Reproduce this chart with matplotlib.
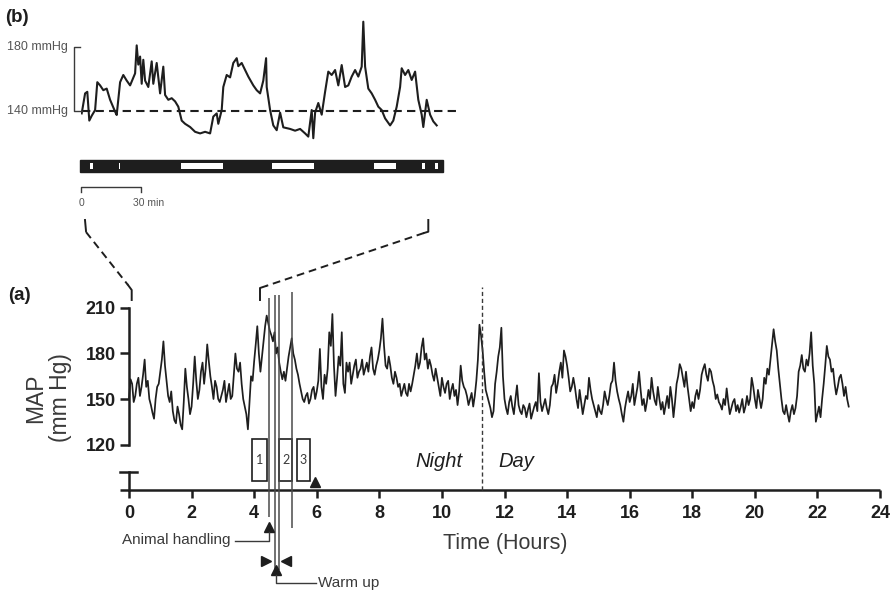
import numpy as np
import matplotlib
matplotlib.use("Agg")
import matplotlib.pyplot as plt
from matplotlib.patches import Rectangle

plt.rcParams['font.family'] = ['Liberation Sans', 'DejaVu Sans']

# ---- panel (a): 24 h MAP trace ----
# readings on the 0.1 h grid (0.0, 0.1, ... 23.0)
step_h = 0.1
map_mmhg = [
    150, 160, 152, 164, 158, 176, 162, 146, 137, 158,
    168, 188, 162, 148, 142, 134, 140, 130, 170, 150,
    145, 178, 150, 168, 160, 186, 165, 150, 158, 148,
    156, 148, 160, 152, 180, 168, 160, 145, 130, 165,
    175, 198, 168, 188, 205, 195, 188, 180, 174, 163,
    162, 178, 190, 176, 166, 155, 148, 154, 150, 158,
    155, 183, 150, 160, 194, 206, 152, 178, 194, 154,
    168, 160, 172, 164, 170, 166, 174, 178, 170, 172,
    182, 203, 172, 178, 164, 168, 158, 152, 160, 152,
    155, 166, 180, 174, 190, 180, 176, 166, 170, 158,
    164, 154, 162, 156, 152, 146, 172, 158, 152, 150,
    145, 162, 199, 182, 156, 148, 138, 160, 178, 197,
    150, 140, 152, 140, 159, 142, 146, 138, 147, 141,
    148, 167, 142, 150, 140, 158, 166, 160, 174, 182,
    172, 155, 164, 150, 156, 140, 152, 164, 150, 142,
    146, 140, 155, 146, 160, 174, 155, 146, 135, 150,
    148, 160, 152, 168, 146, 142, 156, 164, 149, 158,
    143, 140, 152, 158, 138, 160, 173, 164, 168, 150,
    148, 152, 150, 166, 173, 162, 168, 158, 153, 146,
    150, 157, 140, 148, 142, 141, 150, 145, 146, 164,
    150, 156, 144, 164, 170, 176, 196, 182, 160, 142,
    146, 135, 146, 144, 168, 179, 168, 172, 194, 160,
    140, 138, 160, 185, 176, 170, 153, 164, 160, 158,
    145,
]
# readings half way between (0.05, 0.15, ... 22.95)
map_mid = [
    163, 148, 160, 152, 166, 158, 150, 141, 150, 160,
    176, 172, 152, 155, 136, 145, 133, 148, 158, 140,
    160, 162, 156, 174, 170, 175, 158, 162, 150, 152,
    162, 154, 150, 166, 170, 174, 150, 140, 148, 162,
    186, 180, 178, 198, 200, 192, 194, 184, 168, 168,
    170, 184, 180, 170, 160, 150, 152, 147, 156, 150,
    162, 158, 166, 170, 185, 172, 164, 172, 160, 174,
    174, 166, 176, 168, 176, 170, 168, 184, 166, 176,
    190, 185, 170, 172, 160, 164, 160, 156, 154, 160,
    160, 172, 170, 184, 176, 170, 172, 162, 164, 152,
    158, 160, 150, 160, 156, 155, 162, 156, 146, 154,
    152, 176, 192, 168, 152, 144, 142, 168, 184, 165,
    144, 148, 145, 150, 146, 140, 144, 143, 137, 145,
    142, 148, 146, 144, 146, 160, 154, 168, 164, 178,
    164, 158, 158, 144, 148, 146, 150, 156, 146, 138,
    142, 146, 150, 152, 162, 162, 150, 140, 144, 155,
    152, 146, 158, 156, 150, 148, 150, 155, 146, 150,
    148, 146, 144, 150, 148, 165, 170, 158, 158, 142,
    144, 156, 156, 170, 166, 170, 162, 150, 148, 143,
    146, 148, 144, 150, 146, 145, 141, 152, 150, 158,
    144, 150, 150, 160, 166, 186, 188, 170, 150, 140,
    140, 142, 140, 152, 172, 170, 176, 180, 172, 135,
    145, 150, 172, 178, 168, 160, 158, 166, 152, 150,
]
x_ticks = list(range(0, 25, 2))
y_ticks = [120, 150, 180, 210]

event_lines_h = [4.47, 4.65, 4.78, 5.22]
event_tops = [216.6, 218.6, 218.6, 220.6]
event_bottoms = [72.2, 37.3, 37.3, 64.9]
boxes_h = [(3.94, 4.40), (4.79, 5.22), (5.36, 5.78)]
box_labels = ['1', '2', '3']
night_day_h = 11.27

# ---- panel (b): zoomed trace (minutes) ----
zoom_min = [0.5, 2.2, 3.3, 4.3, 5.5, 7.2, 8.3, 9.7, 11.3, 13.0, 14.7, 17.2, 18.0,
            19.7, 21.3, 23.0, 24.7, 27.2, 28.0, 28.8, 29.7, 30.5, 31.3, 32.2, 33.8,
            35.5, 36.3, 38.0, 39.7, 41.3, 42.2, 43.8, 45.5, 47.2, 48.8, 50.5, 52.2,
            54.7, 57.2, 59.7, 62.2, 64.7, 66.3, 68.0, 68.8, 70.5, 71.3, 73.0, 74.7,
            76.3, 78.0, 78.8, 80.5, 82.2, 83.8, 86.3, 88.0, 89.7, 91.3, 92.7, 93.0,
            94.7, 96.3, 98.0, 99.7, 101.3, 104.7, 107.2, 109.7, 112.2, 113.8, 115.5,
            116.3, 117.2, 118.8, 120.5, 122.2, 123.8, 125.5, 127.2, 128.8, 130.5,
            132.2, 133.8, 135.5, 137.2, 138.8, 140.5, 141.3, 142.2, 143.8, 145.5,
            147.2, 148.8, 150.5, 152.2, 154.7, 156.3, 158.0, 159.7, 160.5, 162.2,
            163.8, 165.5, 167.2, 168.8, 170.5, 171.3, 173.0, 174.7, 176.3, 178.0]
zoom_mmhg = [138.5, 151, 152, 134, 137, 140.6, 158, 156, 153, 154, 147, 139.6, 137.5,
             158, 162.5, 159, 156, 163.5, 181, 169, 174, 157, 172, 159, 155,
             171, 157, 170, 151, 167.7, 150, 147, 148, 146, 142.7, 134, 132,
             130, 127, 126, 127, 126, 136.5, 138.5, 132, 140.6, 155, 162.5, 161,
             170, 173, 168, 170, 165.6, 161.5, 156, 153, 151, 159, 173, 155,
             140.6, 131, 128, 139, 129.8, 128.8, 127.7, 128.8, 126, 124, 140.6,
             123, 139, 145, 137.7, 152, 164.6, 162.5, 165.6, 156, 168.7,
             155, 156, 161.5, 165.6, 161.5, 167.7, 195.8, 167.7, 154, 151,
             147, 142.7, 140.6, 135.4, 131, 134, 142.7, 155, 166.7, 162.5,
             165.6, 159.4, 164.6, 147, 137.7, 130, 147, 137.7, 133.5, 131]
# white (inactive) stretches of the activity bar, minutes
bar_gaps = [(4.7, 6.2), (19.2, 19.7), (50.2, 71.2), (95.7, 116.7),
            (146.7, 157.7), (170.7, 172.2), (177.2, 178.7)]

INK = '#1e1e1e'
GREY = '#3a3a3a'

fig = plt.figure(figsize=(8.91, 5.92), dpi=100)

# main axes: x 0..24 h at px 129..880, y 90..210 at px 490..308
ax = fig.add_axes([129 / 891, 1 - 490 / 592, 751 / 891, 182 / 592])
ax.set_xlim(0, 24)
ax.set_ylim(90, 210)
for s in ['top', 'right', 'bottom']:
    ax.spines[s].set_visible(False)
ax.spines['left'].set_bounds(120, 210)
ax.spines['left'].set_linewidth(1.8)
ax.spines['left'].set_color(INK)
ax.plot([-0.29, 24], [90, 90], color=INK, lw=1.8, clip_on=False, solid_capstyle='butt')
ax.plot([0, 0], [90, 102], color=INK, lw=1.8, clip_on=False)
ax.plot([-0.29, 0.27], [102, 102], color=INK, lw=1.8, clip_on=False)
ax.set_xticks(x_ticks)
ax.set_yticks(y_ticks)
ax.tick_params(axis='x', direction='out', length=6, width=1.8, color=INK, pad=5,
               labelsize=13, labelcolor=INK)
ax.tick_params(axis='y', direction='out', length=6.5, width=1.8, color=INK, pad=3,
               labelsize=13, labelcolor=INK)
for lab in ax.get_xticklabels() + ax.get_yticklabels():
    lab.set_fontweight('bold')
ax.patch.set_alpha(0)

# merge the two reading grids into one time-ordered trace
hours = np.empty(len(map_mmhg) + len(map_mid))
vals = np.empty_like(hours)
hours[0::2] = np.arange(len(map_mmhg)) * step_h
hours[1::2] = np.arange(len(map_mid)) * step_h + step_h / 2
vals[0::2] = map_mmhg
vals[1::2] = map_mid
ax.plot(hours, vals, color=INK, lw=1.25, clip_on=False)

ax.vlines(event_lines_h, event_bottoms, event_tops, color='#4a4a4a', lw=1.1, clip_on=False)
for (x0, x1), lab in zip(boxes_h, box_labels):
    ax.add_patch(Rectangle((x0, 95.9), x1 - x0, 27.8, fill=False, ec=INK, lw=1.2,
                           clip_on=False))
    ax.text((x0 + x1) / 2, 109.8, lab, ha='center', va='center', fontsize=9,
            color=GREY, family='Lato')

ax.plot([night_day_h, night_day_h], [90, 223.8], color=GREY, lw=1.0,
        ls=(0, (3, 2)), clip_on=False)
ax.text(10.67, 109, 'Night', ha='right', va='center', fontsize=14.5, style='italic', color=INK)
ax.text(11.82, 109, 'Day', ha='left', va='center', fontsize=14.5, style='italic', color=INK)

# markers and arrows below the axis
ax.plot([5.95], [95.3], marker='^', ms=7.5, color=INK, clip_on=False)
ax.plot([4.47], [65.6], marker='^', ms=7.5, color=INK, clip_on=False)
ax.plot([4.47, 4.47, 3.39], [62.3, 56.4, 56.4], color=GREY, lw=1.0, clip_on=False)
ax.text(3.23, 56.8, 'Animal handling', ha='right', va='center', fontsize=11, color=GREY)
ax.plot([4.38], [42.9], marker='>', ms=7, color=INK, clip_on=False)
ax.plot([5.02], [42.9], marker='<', ms=7, color=INK, clip_on=False)
ax.plot([4.70], [37.3], marker='^', ms=7.5, color=INK, clip_on=False)
ax.plot([4.70, 4.70, 5.97], [34.0, 28.7, 28.7], color=GREY, lw=1.0, clip_on=False)
ax.text(6.04, 29.0, 'Warm up', ha='left', va='center', fontsize=11, color=GREY)

fig.text(48 / 891, 1 - 398 / 592, 'MAP\n(mm Hg)', rotation=90, ha='center', va='center',
         fontsize=16.5, color=GREY, multialignment='center', linespacing=1.1)
fig.text(505 / 891, 1 - 543 / 592, 'Time (Hours)', ha='center', va='center',
         fontsize=15.5, color=GREY)
fig.text(8 / 891, 1 - 296 / 592, '(a)', ha='left', va='center', fontsize=13.5,
         fontweight='bold', color=INK)
fig.text(5 / 891, 1 - 18 / 592, '(b)', ha='left', va='center', fontsize=13.5,
         fontweight='bold', color=INK)

# inset axes: minutes at px 80.7 + 2*min, mmHg 140 at py 111, 1.6 px/mmHg
axb = fig.add_axes([80.7 / 891, 1 - 200 / 592, 380 / 891, 190 / 592])
axb.set_xlim(0, 190)
axb.set_ylim(84.4, 203.1)
axb.axis('off')
axb.plot(zoom_min, zoom_mmhg, color=INK, lw=1.5)
axb.plot([0.65, 190], [140, 140], color=INK, lw=1.5, ls=(0, (4, 2.5)), clip_on=False)
axb.plot([-0.35, -3.35, -3.35, 0.65], [180, 180, 140, 140], color=GREY, lw=1.0,
         clip_on=False)
axb.text(-6.35, 180, '180 mmHg', ha='right', va='center', fontsize=9, color='#555555')
axb.text(-6.35, 140, '140 mmHg', ha='right', va='center', fontsize=9, color='#555555')
axb.add_patch(Rectangle((-0.35, 101.9), 181.55, 7.5, fc=INK, ec=INK, lw=1.0,
                        clip_on=False))
for g0, g1 in bar_gaps:
    axb.add_patch(Rectangle((g0, 103.8), g1 - g0, 3.7, fc='white', ec='none',
                            clip_on=False))
axb.plot([0, 0, 30, 30], [89.4, 92.5, 92.5, 89.4], color=GREY, lw=1.0, clip_on=False)
axb.text(0.5, 82.6, '0', ha='center', va='center', fontsize=7.5, color='#555555',
         clip_on=False)
axb.text(26.2, 82.6, '30 min', ha='left', va='center', fontsize=7.5, color='#555555',
         clip_on=False)

# overlay in pixel units for the zoom connectors
ov = fig.add_axes([0, 0, 1, 1])
ov.set_xlim(0, 891)
ov.set_ylim(592, 0)
ov.axis('off')
ov.patch.set_alpha(0)
ov.plot([85, 86], [220, 231], color=INK, lw=1.4)
ov.plot([86, 128], [232, 285], color=INK, lw=1.4, ls=(0, (4, 2.5)))
ov.plot([128, 131.7, 131.7], [285, 290, 300], color=INK, lw=1.4)
ov.plot([428.3, 428.3, 424], [220, 231.7, 233], color=INK, lw=1.4)
ov.plot([424, 266], [233, 286], color=INK, lw=1.4, ls=(0, (4, 2.5)))
ov.plot([266, 260, 260], [286, 288, 300], color=INK, lw=1.4)

fig.savefig('out.png', dpi=100)
